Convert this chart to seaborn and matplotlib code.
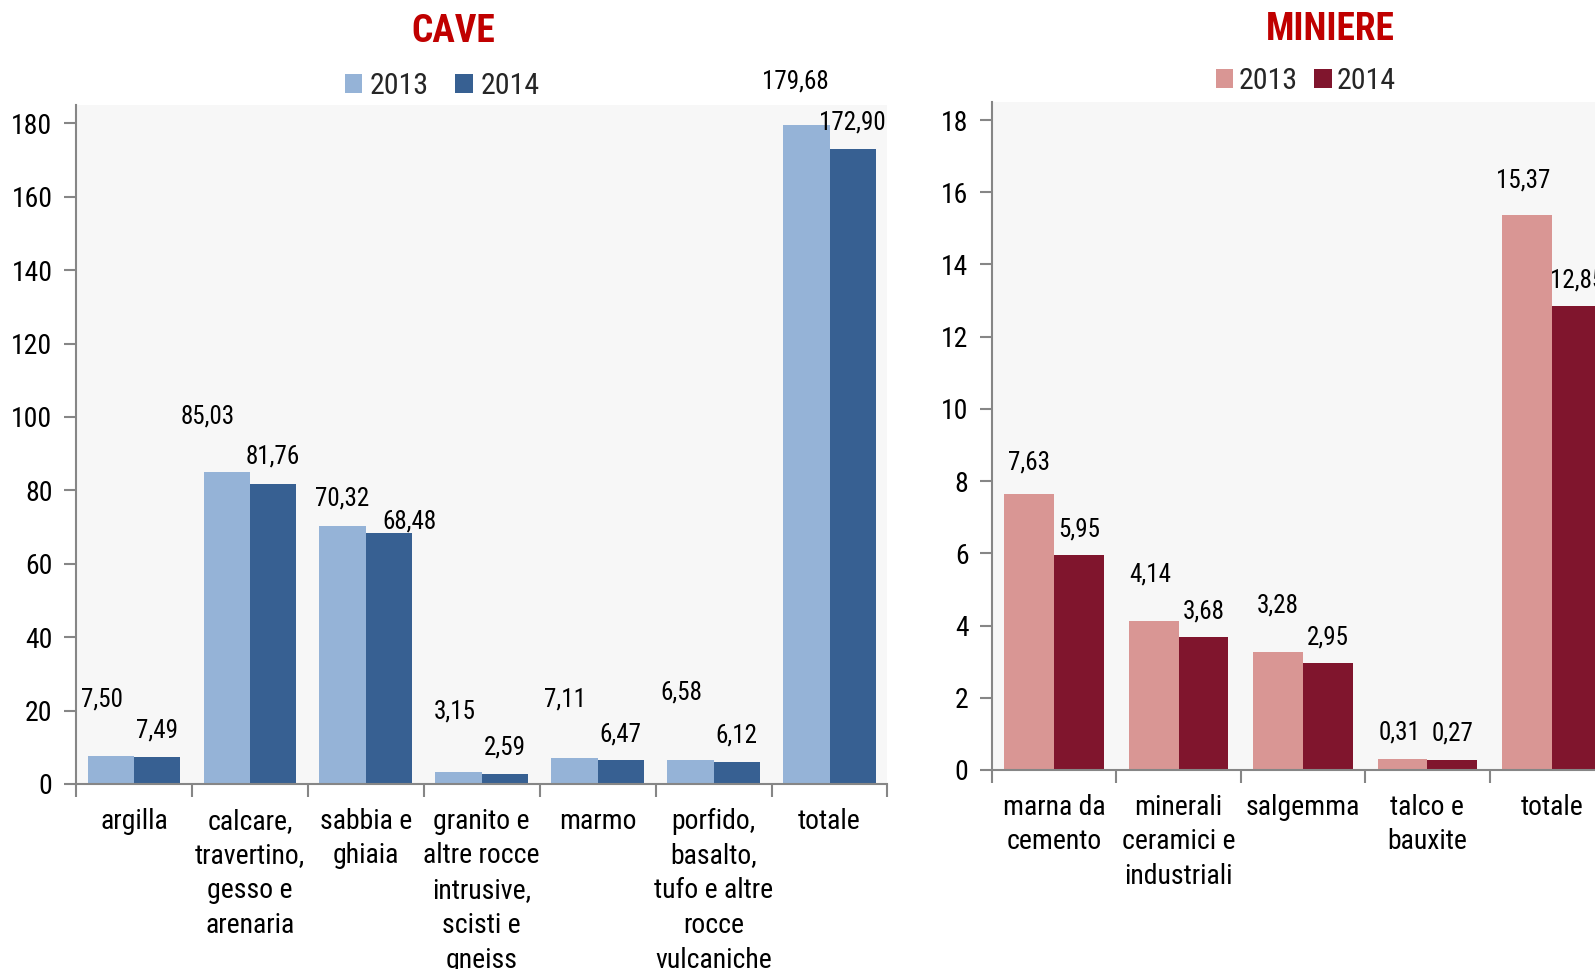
import os
import matplotlib
matplotlib.use("Agg")
import matplotlib.pyplot as plt
import seaborn as sns
import pandas as pd
from matplotlib import font_manager
from matplotlib.font_manager import FontProperties
from matplotlib.patches import Patch

# ---------------- data ----------------
years = ["2013", "2014"]

cave_categories = ["argilla", "calcare,\ntravertino,\ngesso e\narenaria", "sabbia e\nghiaia",
                   "granito e\naltre rocce\nintrusive,\nscisti e\ngneiss", "marmo",
                   "porfido,\nbasalto,\ntufo e altre\nrocce\nvulcaniche", "totale"]
cave_2013 = [7.50, 85.03, 70.32, 3.15, 7.11, 6.58, 179.68]
cave_2014 = [7.49, 81.76, 68.48, 2.59, 6.47, 6.12, 172.90]
cave_yticks = [0, 20, 40, 60, 80, 100, 120, 140, 160, 180]

miniere_categories = ["marna da\ncemento", "minerali\nceramici e\nindustriali", "salgemma",
                      "talco e\nbauxite", "totale"]
miniere_2013 = [7.63, 4.14, 3.28, 0.31, 15.37]
miniere_2014 = [5.95, 3.68, 2.95, 0.27, 12.85]
miniere_yticks = [0, 2, 4, 6, 8, 10, 12, 14, 16, 18]

# label placement (style only, pixel offsets from bar top centre)
cave_off_2013 = [(-9, 57), (-19, 55), (-1, 27), (-4, 61), (-9, 58), (-9, 67), (-11, 43)]
cave_off_2014 = [(0, 26), (0, 27), (20, 11), (0, 27), (0, 26), (0, 26), (0, 27)]
min_off_2013 = [(0, 32), (-3, 46), (0, 46), (-3, 26), (-4, 35)]
min_off_2014 = [(0, 26), (0, 26), (0, 26), (0, 27), (0, 26)]

# ---------------- fonts ----------------
sns.set_theme(style="white")
files = {os.path.basename(f.fname): f.fname for f in font_manager.fontManager.ttflist}


def pick(cands):
    for c in cands:
        if c in files:
            return files[c]
    return None


reg_file = pick(["LiberationSansNarrow-Regular.ttf", "RobotoCondensed-Regular.ttf",
                 "NotoSans-Condensed.ttf", "NotoSans-SemiCondensed.ttf",
                 "DejaVuSansCondensed.ttf", "LiberationSans-Regular.ttf"])
bold_file = pick(["LiberationSansNarrow-Bold.ttf", "RobotoCondensed-Bold.ttf",
                  "NotoSans-CondensedBold.ttf", "NotoSans-SemiCondensedBold.ttf",
                  "DejaVuSansCondensed-Bold.ttf", "LiberationSans-Bold.ttf"])
plt.rcParams["font.family"] = ["Liberation Sans", "DejaVu Sans"]


def fp(size, bold=False):
    f = bold_file if bold else reg_file
    if f:
        return FontProperties(fname=f, size=size)
    return FontProperties(family="Liberation Sans", size=size,
                          weight="bold" if bold else "normal")


GRAY = "#868686"
BG = "#F7F7F7"
TICK_FS = 20
CAT_FS = 20
LBL_FS = 18
LEG_FS = 21.5
TITLE_FS = 27

W, H = 1595, 969
fig = plt.figure(figsize=(W / 100, H / 100), dpi=100)


def fx(px):
    return px / W


def fy(py):
    return 1 - py / H


def make_panel(rect, cats, v13, v14, yticks, ylim, colors, off13, off14,
               title, title_xy, legend_xy, colspace, textpad):
    ax = fig.add_axes(rect)
    df = pd.DataFrame({
        "categoria": cats * 2,
        "valore": v13 + v14,
        "anno": [years[0]] * len(cats) + [years[1]] * len(cats),
    })
    sns.barplot(data=df, x="categoria", y="valore", hue="anno", order=cats,
                hue_order=years, palette=colors, saturation=1, width=0.8,
                errorbar=None, ax=ax, legend=False, edgecolor="none", linewidth=0)
    ax.set_facecolor(BG)
    n = len(cats)
    ax.set_xlim(-0.5, n - 0.5)
    ax.set_ylim(*ylim)
    ax.set_xlabel("")
    ax.set_ylabel("")
    ax.grid(False)
    for s in ["top", "right"]:
        ax.spines[s].set_visible(False)
    for s in ["left", "bottom"]:
        ax.spines[s].set_color(GRAY)
        ax.spines[s].set_linewidth(1.5)
    ax.set_yticks(yticks)
    ax.set_yticklabels([str(t) for t in yticks], fontproperties=fp(TICK_FS), color="black")
    ax.tick_params(axis="y", which="major", direction="out", length=9, width=1.5,
                   color=GRAY, pad=8, left=True)
    ax.set_xticks(range(n))
    ax.set_xticklabels(cats, fontproperties=fp(CAT_FS), linespacing=1.37, va="top",
                       color="black")
    ax.tick_params(axis="x", which="major", length=0, pad=17)
    ax.set_xticks([i - 0.5 for i in range(n + 1)], minor=True)
    ax.tick_params(axis="x", which="minor", direction="out", length=9, width=1.5,
                   color=GRAY, bottom=True)
    for cont, vals, offs in zip(ax.containers, [v13, v14], [off13, off14]):
        for patch, v, (dx, dy) in zip(cont.patches, vals, offs):
            x = patch.get_x() + patch.get_width() / 2
            ax.annotate(f"{v:.2f}".replace(".", ","), xy=(x, v), xytext=(dx, dy),
                        textcoords="offset pixels", ha="center", va="center",
                        fontproperties=fp(LBL_FS), color="black", annotation_clip=False)
    fig.text(fx(title_xy[0]), fy(title_xy[1]), title, ha="center", va="center",
             fontproperties=fp(TITLE_FS, bold=True), color="#C00000")
    handles = [Patch(facecolor=colors[0], edgecolor="none", label=years[0]),
               Patch(facecolor=colors[1], edgecolor="none", label=years[1])]
    fig.legend(handles=handles, loc="center", ncol=2, frameon=False,
               bbox_to_anchor=(fx(legend_xy[0]), fy(legend_xy[1])),
               prop=fp(LEG_FS), handlelength=0.58, handleheight=0.58,
               handletextpad=textpad, columnspacing=colspace, borderaxespad=0)
    return ax


make_panel([fx(76), fy(784), fx(887.5 - 76), (784 - 105) / H],
           cave_categories, cave_2013, cave_2014, cave_yticks, (0, 185),
           ["#95B3D7", "#376092"], cave_off_2013, cave_off_2014,
           "CAVE", (453, 31), (442, 86), 0.9, 0.25)

make_panel([fx(992), fy(770), fx(622), (770 - 102) / H],
           miniere_categories, miniere_2013, miniere_2014, miniere_yticks, (0, 18.5),
           ["#D99694", "#80152D"], min_off_2013, min_off_2014,
           "MINIERE", (1330, 29), (1306, 81), 0.55, 0.18)

fig.savefig("out.png", dpi=100)
